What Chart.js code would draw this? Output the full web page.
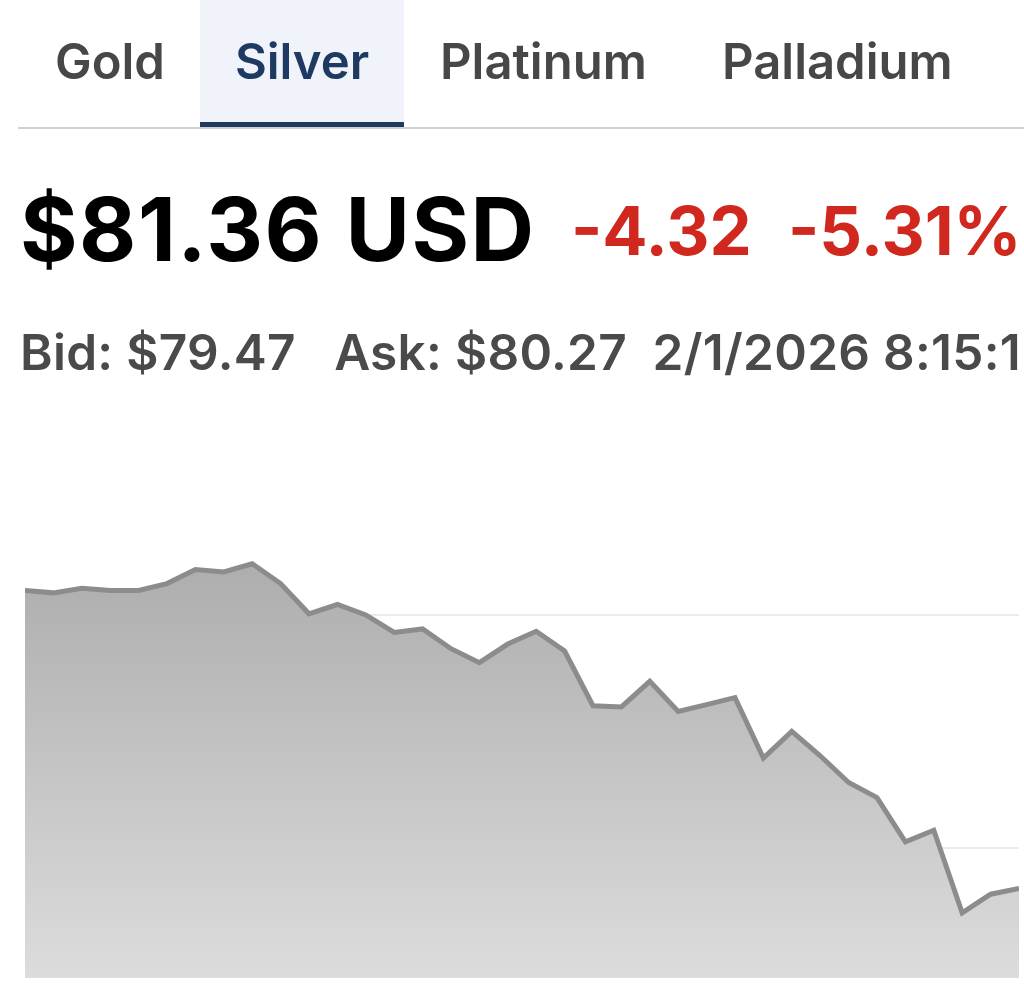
<!DOCTYPE html>
<html>
<head>
<meta charset="utf-8">
<script src="https://cdn.jsdelivr.net/npm/chart.js@4"></script>
<style>
  body { margin: 0; background: #fff; width: 1024px; height: 987px; overflow: hidden; font-family: Inter, "Liberation Sans", sans-serif; }
  .tabs { position: absolute; left: 0; top: 0; width: 1024px; height: 130px; }
  .tab { position: absolute; top: 0; height: 124px; line-height: 124px; font-size: 49px; font-weight: 600; color: #474747; }
  .tab.active { background: #f0f4fa; color: #1f3a62; text-align: center; border-bottom: 7px solid #1f3a5f; height: 122px; line-height: 124px; }
  .rule { position: absolute; left: 18px; right: 0; top: 127px; height: 2px; background: #d2d2d2; }
  .price { position: absolute; left: 20px; top: 176px; font-size: 88px; font-weight: 700; color: #000; white-space: nowrap; letter-spacing: 1.5px; }
  .chg { position: absolute; top: 190px; font-size: 67px; font-weight: 700; color: #d0281e; white-space: nowrap; }
  .meta { position: absolute; left: 20px; top: 322px; font-size: 49.5px; font-weight: 600; color: #4a4a4a; white-space: pre; letter-spacing: 0.3px; }
  #wrap { position: absolute; left: 25px; top: 480px; width: 994px; height: 498px; }
</style>
</head>
<body>
<div class="tabs">
  <div class="tab" style="left:55px">Gold</div>
  <div class="tab active" style="left:200px;width:204px">Silver</div>
  <div class="tab" style="left:440px">Platinum</div>
  <div class="tab" style="left:722px">Palladium</div>
</div>
<div class="rule"></div>
<div class="price">$81.36 USD</div>
<div class="chg" style="left:571px">-4.32</div>
<div class="chg" style="left:788px">-5.31%</div>
<div class="meta">Bid: $79.47   Ask: $80.27  2/1/2026 8:15:1</div>
<div id="wrap"><canvas id="silverChart"></canvas></div>
<script>
// Intraday points (no visible time axis)
const points = [
  "1", "2", "3", "4", "5", "6", "7", "8", "9", "10", "11", "12",
  "13", "14", "15", "16", "17", "18", "19", "20", "21", "22", "23", "24",
  "25", "26", "27", "28", "29", "30", "31", "32", "33", "34", "35", "36",
];

// Silver price, USD
const silverPrices = [
  84.21, 84.19, 84.23, 84.21, 84.21, 84.27, 84.39, 84.37, 84.44, 84.27, 84.01, 84.09,
  84.0, 83.85, 83.88, 83.71, 83.59, 83.75, 83.86, 83.69, 83.22, 83.21, 83.43, 83.17,
  83.23, 83.29, 82.77, 83.0, 82.79, 82.56, 82.43, 82.05, 82.15, 81.44, 81.6, 81.65,
];

// Horizontal grid lines (no labels shown)
const gridValues = [82, 84];
const yMin = 80.88;
const yMax = 85.16;

document.addEventListener("DOMContentLoaded", function () {
  new Chart(document.getElementById("silverChart"), {
    type: "line",
    data: {
      labels: points,
      datasets: [
        {
          label: "Silver",
          data: silverPrices,
          borderColor: "#8c8c8c",
          borderWidth: 5,
          pointRadius: 0,
          tension: 0,
          fill: "start",
          backgroundColor: function (ctx) {
            const area = ctx.chart.chartArea;
            if (!area) return "#bbbbbb";
            const g = ctx.chart.ctx.createLinearGradient(0, area.top, 0, area.bottom);
            g.addColorStop(0, "#a4a4a4");
            g.addColorStop(1, "#dcdcdc");
            return g;
          },
        },
      ],
    },
    options: {
      responsive: true,
      maintainAspectRatio: false,
      animation: false,
      layout: { padding: 0 },
      plugins: {
        legend: { display: false },
        tooltip: { enabled: false },
      },
      scales: {
        x: {
          display: false,
          offset: false,
        },
        y: {
          min: yMin,
          max: yMax,
          z: 1,
          afterBuildTicks: function (axis) {
            axis.ticks = gridValues.map((v) => ({ value: v }));
          },
          border: { display: false },
          grid: {
            color: "rgba(0, 0, 0, 0.08)",
            lineWidth: 2,
            drawTicks: false,
          },
          ticks: { display: false },
        },
      },
    },
  });
});
</script>
</body>
</html>
